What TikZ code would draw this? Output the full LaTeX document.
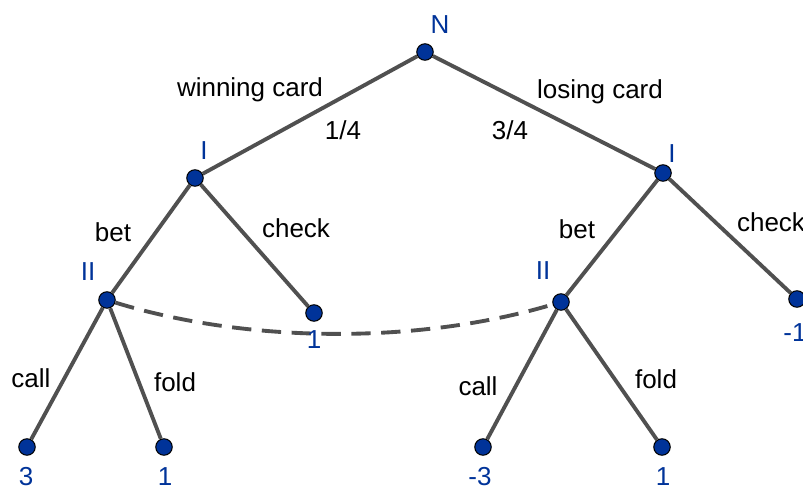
\documentclass[tikz,border=0pt]{standalone}
\usepackage{fontspec}
\setmainfont{Liberation Sans}
\definecolor{ptblue}{RGB}{0,51,153}
\definecolor{edgegray}{RGB}{80,80,80}

\begin{document}
\begin{tikzpicture}[x=0.02cm, y=-0.02cm,
		pt/.style={circle, draw=black, line width=0.6pt, fill=ptblue, minimum size=0.33cm, inner sep=0pt},
		lbl/.style={text=ptblue, inner sep=0pt},
		act/.style={text=black, inner sep=0pt},
		br/.style={draw=edgegray, line width=2.2pt},
		font=\fontsize{14.8}{17}\selectfont]
			\useasboundingbox (0, 0) rectangle (803, 489);
			\clip (0, 0) rectangle (803, 489);
			% game tree
			\node[pt] (n) at (425, 52) {};
			\node[pt] (i1) at (195, 178) {};
			\node[pt] (i2) at (663, 173) {};
			\node[pt] (ii1) at (107, 300) {};
			\node[pt] (ii2) at (561, 302) {};
			\node[pt] (c1) at (314, 313) {};
			\node[pt] (c2) at (797, 299) {};
			\node[pt] (l1) at (27, 447) {};
			\node[pt] (l2) at (164, 447) {};
			\node[pt] (l3) at (483, 447) {};
			\node[pt] (l4) at (662, 447) {};
			\path[br] (n) -- (i1) (n) -- (i2)
				(i1) -- (ii1) (i1) -- (c1)
				(i2) -- (ii2) (i2) -- (c2)
				(ii1) -- (l1) (ii1) -- (l2)
				(ii2) -- (l3) (ii2) -- (l4);
			% information set of II
			\draw[edgegray, line width=2.2pt, dash pattern=on 11pt off 6pt] (ii1) .. controls (250, 344) and (420, 344) .. (ii2);
			% player and payoff labels
			\node[lbl] (tn) at (440, 25) {N};
			\node[lbl] (ti1) at (204, 151) {I};
			\node[lbl] (ti2) at (672, 154) {I};
			\node[lbl] (tii1) at (88, 272) {II};
			\node[lbl] (tii2) at (543, 271) {II};
			\node[lbl] (tc1) at (314, 340) {1};
			\node[lbl] (tc2) at (795, 333) {-1};
			\node[lbl] (tl1) at (26, 477) {3};
			\node[lbl] (tl2) at (165, 477) {1};
			\node[lbl] (tl3) at (480, 477) {-3};
			\node[lbl] (tl4) at (663, 477) {1};
			% actions
			\node[act] (wc) at (250, 90) {winning card};
			\node[act] (p1) at (343, 130) {1/4};
			\node[act] (lc) at (600, 92) {losing card};
			\node[act] (p2) at (510, 130) {3/4};
			\node[act] (b1) at (113, 232) {bet};
			\node[act] (k1) at (296, 228) {check};
			\node[act] (b2) at (577, 229) {bet};
			\node[act] (k2) at (771, 222) {check};
			\node[act] (a1) at (31, 378) {call};
			\node[act] (f1) at (175, 382) {fold};
			\node[act] (a2) at (478, 386) {call};
			\node[act] (f2) at (656, 379) {fold};
		\end{tikzpicture}
\end{document}
